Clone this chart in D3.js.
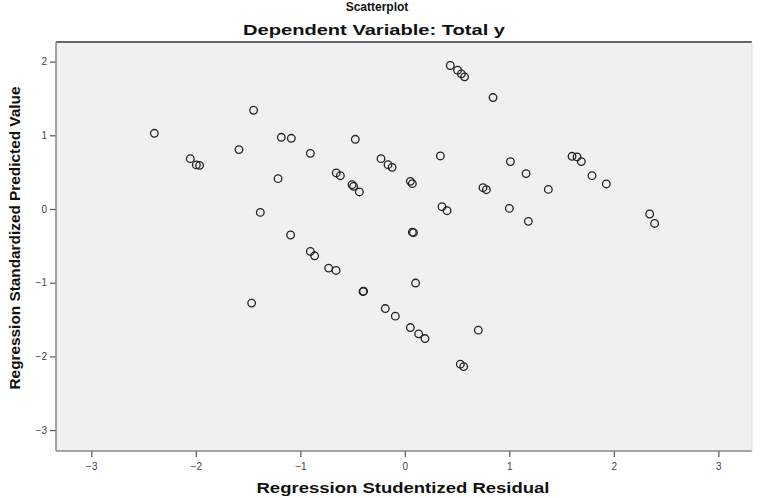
<!DOCTYPE html>
<html>
<head>
<meta charset="utf-8">
<script src="https://cdn.jsdelivr.net/npm/d3@7/dist/d3.min.js"></script>
<style>
  html, body { margin: 0; padding: 0; background: #fff; }
  svg { display: block; }
  text { font-family: "Liberation Sans", Arial, sans-serif; }
</style>
</head>
<body>
<svg id="chart" width="761" height="498"></svg>
<script>
// Regression studentized residual (x) vs standardized predicted value (y)
const residual = [
  -2.397, -2.053, -1.995, -1.964, -1.587, -1.447, -1.182, -1.086, -1.213, -1.383,
  -1.093, -0.904, -0.656, -0.617, -0.505, -0.490, -0.435, -0.474, -0.228, -0.161,
  -0.122, 0.053, 0.072, 0.072, 0.082, 0.340, 0.356, 0.404, 0.435, 0.505,
  0.541, 0.572, 0.844, 0.748, 0.780, 1.010, 1.000, 1.160, 1.182, 1.373,
  1.600, 1.648, 1.689, 1.791, 1.928, 2.343, 2.390, -1.466, -0.904, -0.863,
  -0.729, -0.658, -0.400, -0.395, 0.103, -0.187, -0.091, 0.053, 0.132, 0.193,
  0.703, 0.531, 0.563
];
const predicted = [
  1.027, 0.683, 0.598, 0.592, 0.806, 1.340, 0.973, 0.959, 0.412, -0.046,
  -0.353, 0.755, 0.489, 0.452, 0.330, 0.307, 0.231, 0.946, 0.683, 0.602,
  0.565, 0.375, 0.344, -0.315, -0.322, 0.720, 0.031, -0.023, 1.947, 1.883,
  1.834, 1.793, 1.512, 0.289, 0.262, 0.643, 0.008, 0.480, -0.168, 0.266,
  0.715, 0.707, 0.643, 0.452, 0.340, -0.068, -0.196, -1.277, -0.576, -0.635,
  -0.802, -0.834, -1.120, -1.115, -1.005, -1.351, -1.454, -1.609, -1.694, -1.758,
  -1.644, -2.106, -2.139
];
const xTicks = [-3, -2, -1, 0, 1, 2, 3];
const yTicks = [2, 1, 0, -1, -2, -3];
const xDomain = [-3.338, 3.322];
const yDomain = [-3.284, 2.266];
const supTitle = "Scatterplot";
const chartTitle = "Dependent Variable: Total y";
const xTitle = "Regression Studentized Residual";
const yTitle = "Regression Standardized Predicted Value";

const svg = d3.select("#chart");
const L = 56, R = 752, T = 42, B = 451;

const x = d3.scaleLinear().domain(xDomain).range([L, R]);
const y = d3.scaleLinear().domain(yDomain).range([B, T]);

// plot background
svg.append("rect").attr("x", L).attr("y", T).attr("width", R - L).attr("height", B - T)
  .attr("fill", "#f0f0f0");

// titles
svg.append("text").attr("x", 377).attr("y", 11).attr("text-anchor", "middle")
  .attr("font-size", 12).attr("font-weight", "bold").attr("fill", "#111").text(supTitle);
svg.append("text").attr("x", 374).attr("y", 35).attr("text-anchor", "middle")
  .attr("font-size", 15).attr("font-weight", "bold").attr("fill", "#111")
  .attr("textLength", 262).attr("lengthAdjust", "spacingAndGlyphs").text(chartTitle);

// axes
const xAxis = d3.axisBottom(x).tickValues(xTicks).tickSize(6).tickPadding(6).tickFormat(d3.format("d"));
const yAxis = d3.axisLeft(y).tickValues(yTicks).tickSize(6).tickPadding(3).tickFormat(d3.format("d"));

const gx = svg.append("g").attr("transform", `translate(0,${B})`).call(xAxis);
const gy = svg.append("g").attr("transform", `translate(${L},0)`).call(yAxis);
[gx, gy].forEach(g => {
  g.select(".domain").remove();
  g.selectAll(".tick line").attr("stroke", "#555").attr("stroke-width", 1.2);
  g.selectAll(".tick text").attr("fill", "#444").attr("font-size", 10)
    .style("font-family", "'Liberation Sans', Arial, sans-serif");
});

// frame
svg.append("line").attr("x1", L).attr("x2", R).attr("y1", T).attr("y2", T)
  .attr("stroke", "#666").attr("stroke-width", 2);
svg.append("line").attr("x1", L).attr("x2", L).attr("y1", T).attr("y2", B)
  .attr("stroke", "#888").attr("stroke-width", 1.5);
svg.append("line").attr("x1", L).attr("x2", R).attr("y1", B).attr("y2", B)
  .attr("stroke", "#888").attr("stroke-width", 1.5);
svg.append("line").attr("x1", R).attr("x2", R).attr("y1", T).attr("y2", B)
  .attr("stroke", "#ddd").attr("stroke-width", 1);

// points
svg.append("g").selectAll("circle")
  .data(residual.map((r, i) => [r, predicted[i]]))
  .join("circle")
  .attr("cx", d => x(d[0]))
  .attr("cy", d => y(d[1]))
  .attr("r", 3.8)
  .attr("fill", "none")
  .attr("stroke", "#222")
  .attr("stroke-width", 1.3);

// axis titles
svg.append("text").attr("x", 403).attr("y", 493).attr("text-anchor", "middle")
  .attr("font-size", 14).attr("font-weight", "bold").attr("fill", "#111")
  .attr("textLength", 293).attr("lengthAdjust", "spacingAndGlyphs").text(xTitle);
svg.append("text").attr("transform", "translate(20,238) rotate(-90)")
  .attr("text-anchor", "middle")
  .attr("font-size", 14).attr("font-weight", "bold").attr("fill", "#111")
  .attr("textLength", 303).attr("lengthAdjust", "spacingAndGlyphs").text(yTitle);
</script>
</body>
</html>
